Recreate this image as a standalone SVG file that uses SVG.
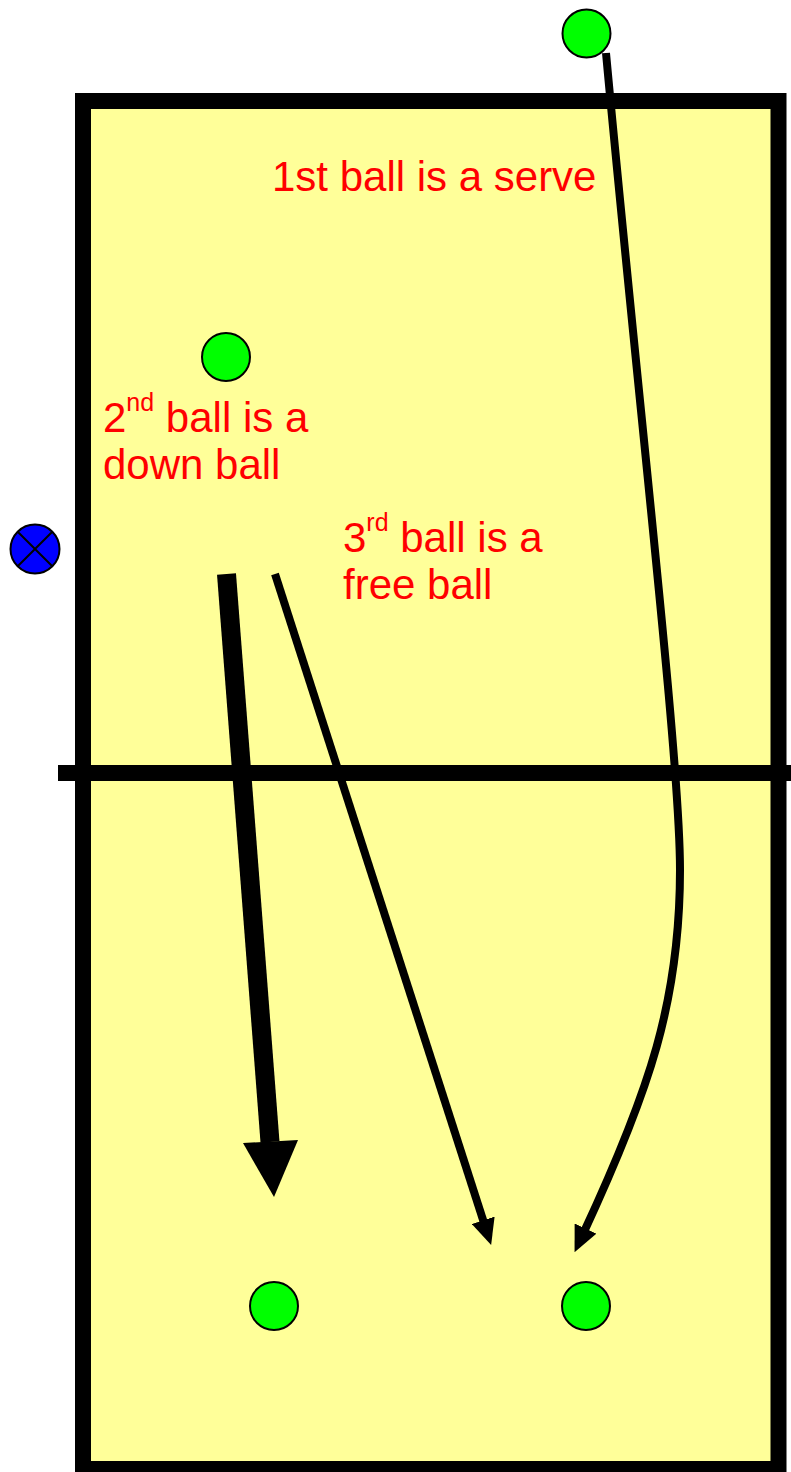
<svg xmlns="http://www.w3.org/2000/svg" width="791" height="1472" viewBox="0 0 791 1472">
<style>
.ball{fill:#00FF00;stroke:#000;stroke-width:2}
.lbl{font-family:"Liberation Sans",Arial,sans-serif;font-size:42px;fill:#FF0000}
.sup{font-size:25px}
.thin{fill:none;stroke:#000;stroke-width:8}
</style>
<defs>
<marker id="ah" markerUnits="userSpaceOnUse" viewBox="0 0 26 24" refX="6" refY="12" markerWidth="26" markerHeight="24" orient="auto">
<path d="M0,0 L26,12 L0,24 z" fill="#000"/>
</marker>
</defs>
<rect width="791" height="1472" fill="#fff"/>
<g id="court">
<rect x="83" y="101" width="695.5" height="1368" fill="#FFFF99" stroke="#000" stroke-width="16"/>
<line x1="58" y1="773" x2="791" y2="773" stroke="#000" stroke-width="16"/>
</g>
<g id="connectors">
<path class="thin" d="M606,53 C640,420 680,760 680,870 C680,1000 650,1090 583,1234" marker-end="url(#ah)"/>
<line class="thin" x1="275" y1="574" x2="485" y2="1226" marker-end="url(#ah)"/>
<line x1="226.5" y1="574" x2="270" y2="1142" stroke="#000" stroke-width="19"/>
<polygon points="243,1143 298,1140 274,1197" fill="#000"/>
</g>
<g id="server"><circle class="ball" cx="586.5" cy="33.5" r="24"/></g>
<g id="setter"><circle class="ball" cx="226" cy="357" r="24"/></g>
<g id="receiver-left"><circle class="ball" cx="274" cy="1306" r="24"/></g>
<g id="receiver-right"><circle class="ball" cx="586" cy="1306" r="24"/></g>
<g id="coach">
<circle cx="35" cy="549" r="24.5" fill="#0000FF" stroke="#000" stroke-width="2"/>
<path d="M17.7,531.7 L52.3,566.3 M52.3,531.7 L17.7,566.3" stroke="#000" stroke-width="2"/>
</g>
<g id="labels">
<text class="lbl" x="272" y="191">1st ball is a serve</text>
<text class="lbl" x="103" y="432">2<tspan class="sup" dy="-21">nd</tspan><tspan dy="21"> ball is a</tspan></text>
<text class="lbl" x="103" y="479">down ball</text>
<text class="lbl" x="343" y="552">3<tspan class="sup" dy="-21">rd</tspan><tspan dy="21"> ball is a</tspan></text>
<text class="lbl" x="343" y="599">free ball</text>
</g>
</svg>
